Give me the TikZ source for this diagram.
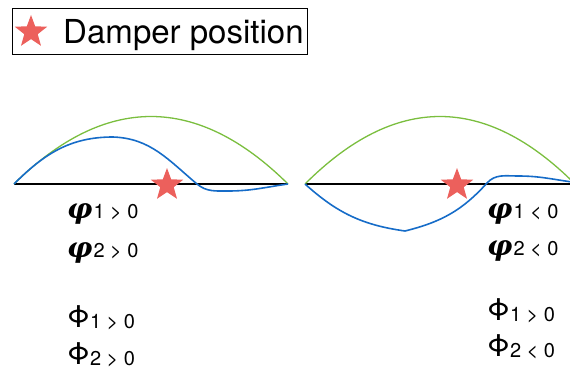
\documentclass[tikz,border=0pt]{standalone}
\usepackage{fontspec}
\setmainfont{TeX Gyre Heros}
\newfontfamily\greekserif{DejaVu Serif}
\usetikzlibrary{shapes.geometric,positioning}

\definecolor{starred}{RGB}{236,96,92}
\definecolor{modegreen}{RGB}{122,190,62}
\definecolor{modeblue}{RGB}{22,108,200}

\newcommand{\phismall}{{\greekserif\bfseries\itshape\fontsize{28}{28}\selectfont φ}\hspace{1pt}}
\newcommand{\phibig}{{\fontsize{30}{30}\selectfont Φ}}

\begin{document}
\begin{tikzpicture}[
  x=1pt,y=-1pt,
  dstar/.style={star,star points=5,star point ratio=2.4,fill=starred,
                draw=none,minimum size=34pt,inner sep=0pt},
  beam/.style={line width=1.8pt,black},
  shapeone/.style={line width=1.3pt,modegreen},
  shapetwo/.style={line width=1.6pt,modeblue},
  lab/.style={anchor=base west,inner sep=0pt,font=\fontsize{20}{22}\selectfont}
]
\useasboundingbox (0,0) rectangle (570,369);

% ---- legenda ----
\node[draw=black,line width=0.8pt,anchor=north west,minimum width=295pt,
      minimum height=46pt,inner sep=0pt] (legend) at (12,8) {};
\node[dstar] (legstar) at (31,32) {};
\node[anchor=base west,inner sep=0pt,font=\fontsize{33}{35}\selectfont]
  (legtext) at (63,44) {Damper position};

% ---- cazul stang ----
\coordinate (la) at (14,184);
\coordinate (lb) at (288,184);
\coordinate (lpeak) at (113,137);
\coordinate (lcross) at (197,184);
\coordinate (lmin) at (228,191);

\draw[beam] (la) -- (lb);
\draw[shapeone] (la) .. controls (105,94) and (197,94) .. (lb);
\draw[shapetwo] (la) to[out=45,in=180] (lpeak)
  to[out=-2,in=140] (lcross) to[out=-40,in=180] (lmin)
  to[out=0,in=188] (lb);
\node[dstar] (lstar) at (167,185) {};

\node[lab] (lphione) at (67,218) {\phismall1 > 0};
\node[lab] (lphitwo) at (67,257) {\phismall2 > 0};
\node[lab] (lPhione) at (67,327) {\phibig\raisebox{-1.5pt}{1 > 0}};
\node[lab] (lPhitwo) at (67,364) {\phibig\raisebox{-1.5pt}{2 > 0}};

% ---- cazul drept ----
\coordinate (ra) at (305,184);
\coordinate (rb) at (572,184);
\coordinate (rmin) at (405,231);
\coordinate (rcross) at (487,183);
\coordinate (rcrest) at (518,176);
\coordinate (rend) at (572,182);

\draw[beam] (ra) -- (rb);
\draw[shapeone] (ra) .. controls (395,94) and (485,94) .. (575,184);
\draw[shapetwo] (ra) to[out=-42,in=172] (rmin)
  to[out=14,in=228] (rcross) to[out=48,in=180] (rcrest)
  to[out=0,in=172] (rend);
\node[dstar] (rstar) at (457,185) {};

\node[lab] (rphione) at (487,218) {\phismall1 < 0};
\node[lab] (rphitwo) at (487,255) {\phismall2 < 0};
\node[lab] (rPhione) at (487,320) {\phibig\raisebox{-1.5pt}{1 > 0}};
\node[lab] (rPhitwo) at (487,356) {\phibig\raisebox{-1.5pt}{2 < 0}};

\end{tikzpicture}
\end{document}
